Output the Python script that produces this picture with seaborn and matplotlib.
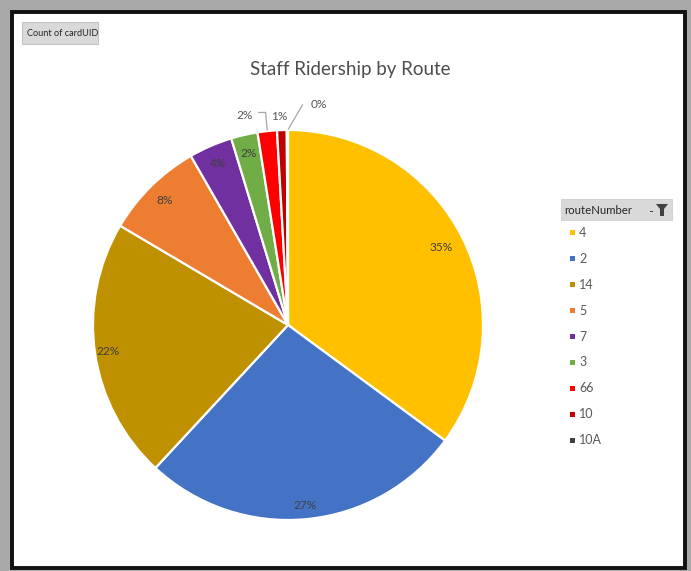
import numpy as np
import matplotlib
matplotlib.use("Agg")
import matplotlib.pyplot as plt
from matplotlib.patches import Rectangle, Polygon
import seaborn as sns

# Pivot-chart data: count of cardUID per route
routes = ["4", "2", "14", "5", "7", "3", "66", "10", "10A"]
counts = [351, 268, 216, 82, 36, 22, 16, 8, 1]
colors = ["#FFC000", "#4472C4", "#BF9000", "#ED7D31", "#7030A0",
          "#70AD47", "#FF0000", "#C00000", "#404040"]

sns.set_theme(style="white")
plt.rcParams["font.family"] = ["Lato", "DejaVu Sans"]

W, H = 691, 571
fig = plt.figure(figsize=(W / 100, H / 100), dpi=100)
fig.patch.set_facecolor("#a9a9a9")


def fx(px):
    return px / W


def fy(py):
    return 1 - py / H


# white chart area with a heavy dark border
fig.patches.append(Rectangle((fx(12), fy(568)), fx(673), 556 / H,
                             transform=fig.transFigure, facecolor="white",
                             edgecolor="#111111", linewidth=2.8, zorder=-10))

# field button
fig.patches.append(Rectangle((fx(22), fy(44)), fx(76), 22 / H,
                             transform=fig.transFigure, facecolor="#d9d9d9",
                             edgecolor="#c4c4c4", linewidth=0.8, zorder=1))
fig.text(fx(27), fy(33), "Count of cardUID", fontsize=6.6, color="#262626",
         va="center", ha="left")

# title
fig.text(fx(350), fy(70), "Staff Ridership by Route", fontsize=13.5,
         color="#4d4d4d", ha="center", va="center")

# pie
cx, cy, R = 288, 325, 195
ax = fig.add_axes([fx(cx - R), fy(cy + R), 2 * R / W, 2 * R / H])
ax.set_zorder(1)
ax.patch.set_visible(False)
pal = sns.color_palette(colors)
wedges, _ = ax.pie(counts, colors=pal, startangle=90, counterclock=False,
                   radius=1, wedgeprops=dict(edgecolor="white", linewidth=1.6))
ax.set_xlim(-1, 1)
ax.set_ylim(-1, 1)
ax.set_aspect("equal")
ax.axis("off")

total = sum(counts)
pcts = [c / total * 100 for c in counts]
labels = [f"{round(p):.0f}%" for p in pcts]

# inside labels near the outer edge
inner_r = [0.88, 0.93, 0.93, 0.9, 0.9, 0.9]
for i, w in enumerate(wedges[:6]):
    mid = np.deg2rad((w.theta1 + w.theta2) / 2)
    r = inner_r[i]
    ax.text(r * np.cos(mid), r * np.sin(mid), labels[i], fontsize=8.6,
            color="#404040", ha="center", va="center")

# outside labels with leader lines for the thinnest slices
outside = {6: (-0.22, 1.075), 7: (-0.045, 1.07), 8: (0.16, 1.13)}
for i, (tx, ty) in outside.items():
    w = wedges[i]
    mid = np.deg2rad((w.theta1 + w.theta2) / 2)
    x0, y0 = np.cos(mid), np.sin(mid)
    ax.text(tx, ty, labels[i], fontsize=8.6, color="#595959",
            ha="center", va="center")
    if i == 6:
        ax.plot([tx + 0.07, tx + 0.105, x0], [ty + 0.015, ty + 0.015, y0 + 0.005],
                color="#a6a6a6", lw=0.9, clip_on=False)
    elif i == 8:
        ax.plot([tx - 0.085, x0 + 0.005], [ty, y0 + 0.005],
                color="#a6a6a6", lw=0.9, clip_on=False)

# legend header with filter icon
fig.patches.append(Rectangle((fx(561), fy(220)), fx(111), 21 / H,
                             transform=fig.transFigure, facecolor="#d9d9d9",
                             edgecolor="#cfcfcf", linewidth=0.6, zorder=1))
fig.text(fx(564), fy(210), "routeNumber", fontsize=8.2, color="#262626",
         va="center", ha="left")
funnel = [(656, 204), (668, 204), (664, 209), (664, 216), (660, 216), (660, 209)]
fig.patches.append(Polygon([(fx(x), fy(y)) for x, y in funnel], closed=True,
                           transform=fig.transFigure, facecolor="#404040",
                           edgecolor="none", zorder=2))
fig.patches.append(Rectangle((fx(650), fy(212)), fx(3), 1.5 / H,
                             transform=fig.transFigure, facecolor="#404040",
                             edgecolor="none", zorder=2))

# legend entries
y0 = 233
step = 25.9
for i, (lab, col) in enumerate(zip(routes, colors)):
    yy = y0 + i * step
    fig.patches.append(Rectangle((fx(569.5), fy(yy + 2.5)), fx(5), 5 / H,
                                 transform=fig.transFigure, facecolor=col,
                                 edgecolor="none", zorder=2))
    fig.text(fx(579), fy(yy), lab, fontsize=9, color="#595959",
             va="center", ha="left")

fig.savefig("out.png", dpi=100, facecolor=fig.get_facecolor())
